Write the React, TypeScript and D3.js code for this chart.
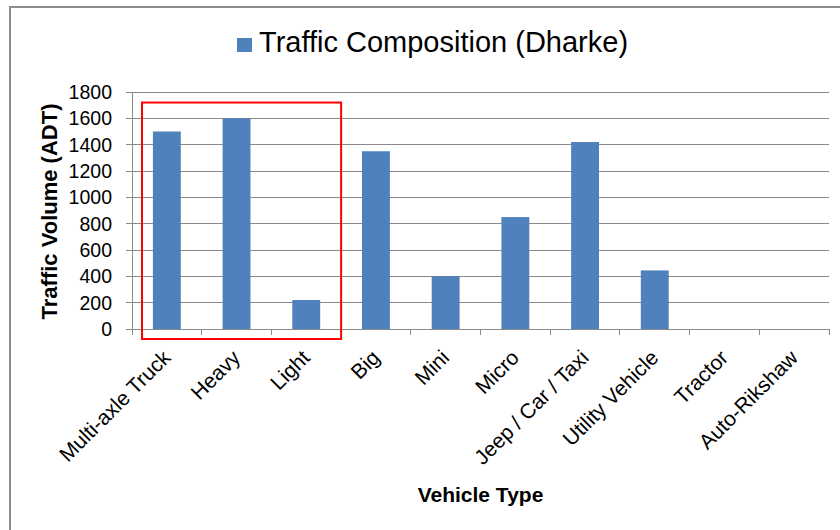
// @ts-nocheck
import { useEffect, useRef } from "react";
import * as d3 from "d3";

const categories = [
  "Multi-axle Truck",
  "Heavy",
  "Light",
  "Big",
  "Mini",
  "Micro",
  "Jeep / Car / Taxi",
  "Utility Vehicle",
  "Tractor",
  "Auto-Rikshaw",
];
const volumes = [1500, 1600, 220, 1350, 400, 850, 1420, 445, 0, 0];
const yTicks = [0, 200, 400, 600, 800, 1000, 1200, 1400, 1600, 1800];
const seriesName = "Traffic Composition (Dharke)";
const xTitle = "Vehicle Type";
const yTitle = "Traffic Volume (ADT)";
// highlighted group: first three categories, up to ~1720 ADT
const highlightCats = ["Multi-axle Truck", "Light"];
const highlightTop = 1720;

const W = 840;
const H = 530;
const margin = { top: 92, right: 11, bottom: 201, left: 132 };
const font = "Arial, 'Liberation Sans', sans-serif";
const barColor = "#4F81BD";
const gridColor = "#8a8a8a";

function App() {
  const svgRef = useRef<SVGSVGElement>(null);

  useEffect(() => {
    const svg = d3.select(svgRef.current);
    svg.selectAll("*").remove();

    const innerW = W - margin.left - margin.right;
    const innerH = H - margin.top - margin.bottom;

    const x = d3
      .scaleBand()
      .domain(categories)
      .range([margin.left, margin.left + innerW])
      .paddingInner(0.6)
      .paddingOuter(0.3);
    const step = x.step();
    const catStart = (c) => x(c) - step * 0.3;

    const y = d3
      .scaleLinear()
      .domain([0, 1800])
      .range([margin.top + innerH, margin.top]);

    svg
      .append("rect")
      .attr("width", W)
      .attr("height", H)
      .attr("fill", "#fff");

    // chart frame
    svg
      .append("rect")
      .attr("x", 10)
      .attr("y", 7)
      .attr("width", W + 20)
      .attr("height", H + 20)
      .attr("fill", "none")
      .attr("stroke", "#8c8c8c")
      .attr("stroke-width", 2);

    // gridlines + y tick labels
    const gy = svg.append("g");
    yTicks.forEach((t) => {
      gy.append("line")
        .attr("x1", margin.left - 6)
        .attr("x2", margin.left + innerW)
        .attr("y1", y(t))
        .attr("y2", y(t))
        .attr("stroke", gridColor)
        .attr("stroke-width", 1)
        .attr("shape-rendering", "crispEdges");
      gy.append("text")
        .attr("x", margin.left - 20)
        .attr("y", y(t))
        .attr("dy", "0.36em")
        .attr("text-anchor", "end")
        .attr("font-family", font)
        .attr("font-size", 19.5)
        .attr("fill", "#000")
        .text(t);
    });

    // y axis line
    svg
      .append("line")
      .attr("x1", margin.left)
      .attr("x2", margin.left)
      .attr("y1", y(1800))
      .attr("y2", y(0) + 6)
      .attr("stroke", gridColor)
      .attr("shape-rendering", "crispEdges");

    // x tick marks at category boundaries
    const bounds = categories.map(catStart).concat([margin.left + innerW]);
    svg
      .append("g")
      .selectAll("line")
      .data(bounds)
      .join("line")
      .attr("x1", (d) => d)
      .attr("x2", (d) => d)
      .attr("y1", y(0))
      .attr("y2", y(0) + 6)
      .attr("stroke", gridColor)
      .attr("shape-rendering", "crispEdges");

    // bars
    svg
      .append("g")
      .selectAll("rect")
      .data(volumes)
      .join("rect")
      .attr("x", (_, i) => x(categories[i]))
      .attr("y", (d) => y(d))
      .attr("width", x.bandwidth())
      .attr("height", (d) => y(0) - y(d))
      .attr("fill", barColor);

    // x tick labels
    svg
      .append("g")
      .selectAll("text")
      .data(categories)
      .join("text")
      .attr("transform", (d) => {
        const cx = x(d) + x.bandwidth() / 2 + 5;
        const cy = y(0) + 30;
        return `translate(${cx},${cy}) rotate(-45)`;
      })
      .attr("text-anchor", "end")
      .attr("font-family", font)
      .attr("font-size", 21)
      .attr("fill", "#000")
      .text((d) => d);

    // axis titles
    svg
      .append("text")
      .attr("x", margin.left + innerW / 2)
      .attr("y", 502)
      .attr("text-anchor", "middle")
      .attr("font-family", font)
      .attr("font-size", 21)
      .attr("font-weight", "bold")
      .text(xTitle);

    svg
      .append("text")
      .attr("transform", `translate(57,${(y(0) + y(1800)) / 2 + 1}) rotate(-90)`)
      .attr("text-anchor", "middle")
      .attr("font-family", font)
      .attr("font-size", 22)
      .attr("font-weight", "bold")
      .text(yTitle);

    // legend (series name acts as title)
    const lg = svg.append("g").attr("transform", "translate(237,38)");
    lg.append("rect")
      .attr("width", 15)
      .attr("height", 14)
      .attr("fill", barColor);
    lg.append("text")
      .attr("x", 22)
      .attr("y", 14)
      .attr("font-family", font)
      .attr("font-size", 29)
      .attr("fill", "#000")
      .text(seriesName);

    // red highlight box
    const hx0 = catStart(highlightCats[0]) + 10;
    const hx1 = catStart(highlightCats[1]) + step;
    svg
      .append("rect")
      .attr("x", hx0)
      .attr("y", y(highlightTop))
      .attr("width", hx1 - hx0)
      .attr("height", y(0) + 10 - y(highlightTop))
      .attr("fill", "none")
      .attr("stroke", "#ff0000")
      .attr("stroke-width", 2);
  }, []);

  return (
    <div style={{ position: "absolute", left: 0, top: 0 }}>
      <svg ref={svgRef} width={W} height={H} style={{ display: "block" }} />
    </div>
  );
}

export default App;
